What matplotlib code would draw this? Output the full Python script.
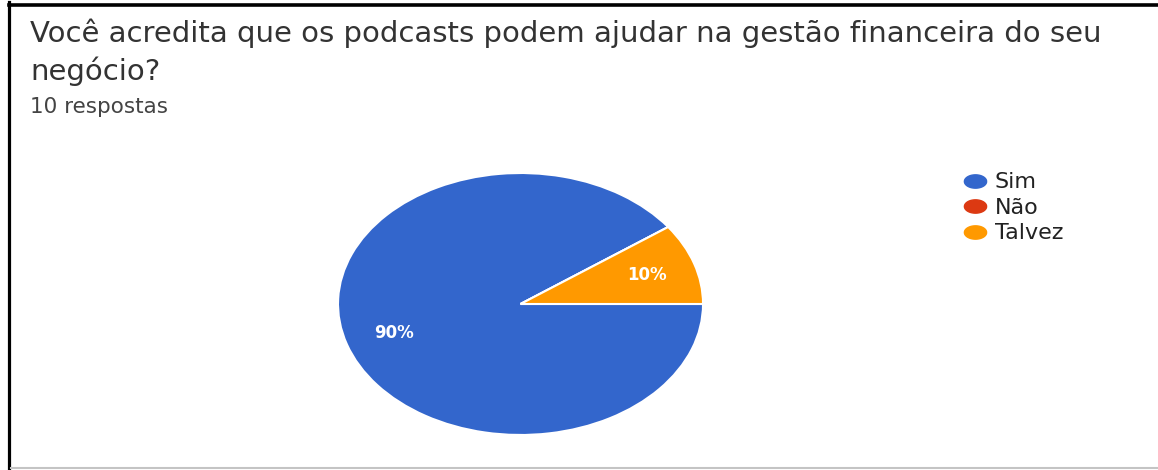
import numpy as np
import matplotlib.pyplot as plt
from matplotlib.lines import Line2D
from matplotlib.path import Path

# --- datos ---
titulo = "Você acredita que os podcasts podem ajudar na gestão financeira do seu\nnegócio?"
subtitulo = "10 respostas"
categorias = ["Sim", "Não", "Talvez"]
valores = [9, 0, 1]
colores = ["#3366cc", "#dc3912", "#ff9900"]

fig = plt.figure(figsize=(11.58, 4.70), dpi=100)
fig.patch.set_facecolor("white")

# marco de la captura
fig.add_artist(Line2D([0.0075, 1.0], [0.9904, 0.9904], color="black", lw=2.6))
fig.add_artist(Line2D([0.0082, 0.0082], [0.0, 0.995], color="black", lw=2.3))
fig.add_artist(Line2D([0.0095, 1.0], [0.0035, 0.0035], color="#c4c4c4", lw=1.5))

# textos
lineas = titulo.split("\n")
fig.text(0.0259, 0.9106, lineas[0], fontsize=21, color="#333333",
         family="DejaVu Sans", va="baseline", ha="left")
fig.text(0.0259, 0.830, lineas[1], fontsize=21, color="#333333",
         family="DejaVu Sans", va="baseline", ha="left")
fig.text(0.0259, 0.7596, subtitulo, fontsize=15.5, color="#444444",
         family="DejaVu Sans", va="baseline", ha="left")

# torta (estirada horizontalmente como en la captura)
ax = fig.add_axes([0.2919, 0.0745, 0.3152, 0.5574])
wedges, textos, autotextos = ax.pie(
    valores, colors=colores, startangle=0, counterclock=False,
    autopct=lambda p: f"{p:.0f}%" if p > 0 else "", pctdistance=0.727,
    wedgeprops=dict(edgecolor="white", linewidth=1.5),
    textprops=dict(color="white", fontsize=12, fontweight="bold"))
ax.set_aspect("auto")
ax.set_xlim(-1, 1)
ax.set_ylim(-1, 1)

# leyenda con marcadores elípticos
t = np.linspace(0, 2 * np.pi, 60)
elipse = Path(np.column_stack([np.cos(t), 0.6 * np.sin(t)]))
handles = [Line2D([], [], linestyle="none", marker=elipse, markersize=16,
                  markerfacecolor=c, markeredgecolor=c) for c in colores]
fig.legend(handles, categorias, loc="upper left", bbox_to_anchor=(0.813, 0.676),
           frameon=False, handlelength=1.2, handletextpad=0.3, labelspacing=0.25,
           prop=dict(family="DejaVu Sans", size=16), labelcolor="#222222")

fig.savefig("out.png", dpi=100)
